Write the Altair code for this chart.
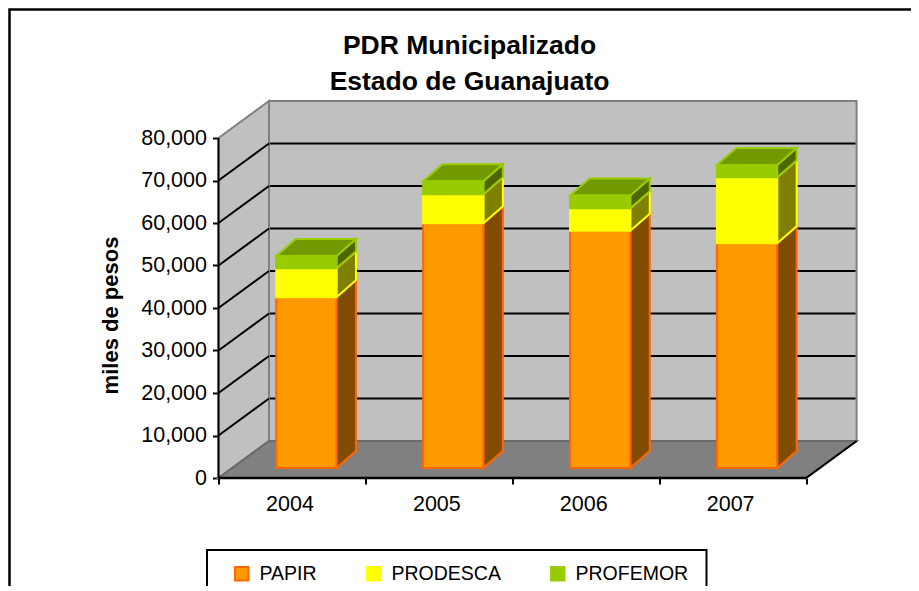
import altair as alt
import pandas as pd

title_lines = ["PDR Municipalizado", "Estado de Guanajuato"]
years = ["2004", "2005", "2006", "2007"]
series = ["PAPIR", "PRODESCA", "PROFEMOR"]
papir = [40200, 57600, 55800, 52900]
prodesca = [6800, 6800, 5300, 15500]
profemor = [2900, 3100, 3000, 2900]
y_ticks = [0, 10000, 20000, 30000, 40000, 50000, 60000, 70000, 80000]
x_ticks = [0, 1, 2, 3, 4]
fills = ["#FF9900", "#FFFF00", "#99CC00"]
edges = ["#FF6600", "#FFFF00", "#99CC00"]
side_fills = ["#804D00", "#808000", "#4D6600"]
top_fills = ["#BF7300", "#BFBF00", "#739900"]

FONT = "Liberation Sans"
# geometry of the fake 3-D box, in data units
PX_X = 146.9          # px per category
PX_Y = 4.25 / 1000    # px per peso-thousand
W, H = 638, 377
WALL_DX, WALL_DY = 50.5 / PX_X, 37 / PX_Y
XMAX, YMAX = W / PX_X, H / PX_Y
BAR_L, BAR_W = 0.393, 0.41
BAR_DX, BAR_DY = 19.5 / PX_X, 17 / PX_Y
LIFT = 10 / PX_Y
TOP = 80000
OX, OY = 218.5, 101
LEFT, UP = OX - 8, OY - 8
CANVAS_W, CANVAS_H = 903, 578

xs = alt.Scale(domain=[0, XMAX], nice=False, zero=False)
ys = alt.Scale(domain=[0, YMAX], nice=False, zero=False)
x_axis_def = alt.Axis(
    values=x_ticks, labels=False, domain=False, grid=False, tickColor="black", tickWidth=2, tickSize=6, title=None)
y_axis_def = alt.Axis(
    values=y_ticks, labelExpr="format(datum.value, ',')", domain=False, grid=False, tickColor="black", tickWidth=2,
    tickSize=6, labelFont=FONT, labelFontSize=21.5, labelColor="black", labelPadding=6,
    title="miles de pesos", titleFont=FONT, titleFontSize=22, titleFontWeight="bold", titleColor="black",
    titleX=122 - OX, titleY=315 - OY, titleAngle=270)
X = lambda f: alt.X(f, type="quantitative", scale=xs, axis=x_axis_def)
Y = lambda f: alt.Y(f, type="quantitative", scale=ys, axis=y_axis_def)
X2 = lambda f: alt.X2(f)
Y2 = lambda f: alt.Y2(f)

# ---- tables built from the arrays
front, sides, tops = [], [], []
for i, yr in enumerate(years):
    base = 0
    x0 = i + BAR_L
    x1 = x0 + BAR_W
    for s, vals in enumerate([papir, prodesca, profemor]):
        lo, hi = base + LIFT, base + vals[i] + LIFT
        front.append(dict(yr=yr, serie=series[s], x=x0, x2=x1, y=lo, y2=hi))
        sides.append(dict(k=f"{yr}{s}", s=s, x=x1, y=lo, y2=hi))
        sides.append(dict(k=f"{yr}{s}", s=s, x=x1 + BAR_DX, y=lo + BAR_DY, y2=hi + BAR_DY))
        base += vals[i]
    tops.append(dict(k=yr, x=x0, x2=x1, y=base + LIFT))
    tops.append(dict(k=yr, x=x0 + BAR_DX, x2=x1 + BAR_DX, y=base + LIFT + BAR_DY))
front = pd.DataFrame(front)
sides = pd.DataFrame(sides)
tops = pd.DataFrame(tops)

one = pd.DataFrame({"a": [0]})
# frame + legend box (chart furniture)
frame = alt.Chart(one).mark_rect(fillOpacity=0, stroke="black", strokeWidth=2.5).encode(
    x=alt.value(9.5 - OX), x2=alt.value(960), y=alt.value(9.5 - OY), y2=alt.value(700))
legend_box = alt.Chart(one).mark_rect(fillOpacity=0, stroke="black", strokeWidth=2).encode(
    x=alt.value(207 - OX), x2=alt.value(706.5 - OX), y=alt.value(550 - OY), y2=alt.value(560))

# walls and floor
back = alt.Chart(pd.DataFrame({"x": [WALL_DX], "x2": [4 + WALL_DX], "y": [WALL_DY], "y2": [TOP + WALL_DY]})).mark_rect(
    fill="#C0C0C0", stroke="#808080", strokeWidth=2).encode(x=X("x"), x2=X2("x2"), y=Y("y"), y2=Y2("y2"))
left_wall = alt.Chart(pd.DataFrame({"x": [0, WALL_DX], "y": [0, WALL_DY], "y2": [TOP, TOP + WALL_DY]})).mark_area(
    fill="#C0C0C0", stroke="#808080", strokeWidth=2).encode(x=X("x"), y=Y("y"), y2=Y2("y2"))
floor = alt.Chart(pd.DataFrame({"y": [0, WALL_DY], "x": [0, WALL_DX], "x2": [4, 4 + WALL_DX]})).mark_area(
    orient="horizontal", fill="#808080", stroke="#6A6A6A", strokeWidth=2).encode(
    y=Y("y"), x=X("x"), x2=X2("x2"))

# gridlines
grid_vals = y_ticks[1:-1]
back_grid = alt.Chart(pd.DataFrame({"y": [v + WALL_DY for v in grid_vals]})).mark_rule(
    color="black", strokeWidth=2).encode(y=Y("y"), x=alt.value(WALL_DX * PX_X + 1), x2=alt.value(W - 1))
diag = pd.DataFrame(
    [dict(k=v, x=0, y=v) for v in grid_vals] + [dict(k=v, x=WALL_DX, y=v + WALL_DY) for v in grid_vals])
side_grid = alt.Chart(diag).mark_line(color="black", strokeWidth=2).encode(
    x=X("x"), y=Y("y"), detail="k:N")
right_edge = alt.Chart(pd.DataFrame({"x": [4, 4 + WALL_DX], "y": [0, WALL_DY]})).mark_line(
    color="black", strokeWidth=2).encode(x=X("x"), y=Y("y"))

# bars
side_layer = alt.Chart(sides).mark_area(strokeWidth=2).encode(
    x=X("x"), y=Y("y"), y2=Y2("y2"), detail="k:N",
    fill=alt.Fill("s:N", scale=alt.Scale(domain=[0, 1, 2], range=side_fills), legend=None),
    stroke=alt.Stroke("s:N", scale=alt.Scale(domain=[0, 1, 2], range=edges), legend=None),
)
top_layer = alt.Chart(tops).mark_area(orient="horizontal", fill=top_fills[2], stroke=edges[2], strokeWidth=2).encode(
    y=Y("y"), x=X("x"), x2=X2("x2"), detail="k:N")
leg = dict(
    title=None, orient="none", legendX=232 - OX, legendY=564 - OY, direction="horizontal",
    symbolType="square", symbolSize=180, symbolStrokeWidth=2, labelFont=FONT, labelFontSize=19.5,
    labelColor="black", columnPadding=46, gridAlign="none", padding=0, labelOffset=8, symbolOpacity=1)
front_layer = alt.Chart(front).mark_rect(strokeWidth=2).encode(
    x=X("x"), x2=X2("x2"), y=Y("y"), y2=Y2("y2"),
    fill=alt.Fill("serie:N", scale=alt.Scale(domain=series, range=fills), legend=alt.Legend(**leg)),
    stroke=alt.Stroke("serie:N", scale=alt.Scale(domain=series, range=edges), legend=alt.Legend(**leg)),
)

# axis lines and text
axis_v = alt.Chart(pd.DataFrame({"x": [0], "y": [0], "y2": [TOP]})).mark_rule(color="black", strokeWidth=2).encode(
    x=X("x"), y=Y("y"), y2=Y2("y2"))
axis_h = alt.Chart(pd.DataFrame({"y": [0], "x": [0], "x2": [4]})).mark_rule(color="black", strokeWidth=2.5).encode(
    y=Y("y"), x=X("x"), x2=X2("x2"))
x_labels = alt.Chart(pd.DataFrame({"yr": years, "x": [i + 0.5 for i in x_ticks[:-1]], "y": [0] * 4})).mark_text(
    font=FONT, fontSize=21.5, color="black", baseline="middle", dy=27, dx=-2).encode(x=X("x"), y=Y("y"), text="yr:N")
title_1 = alt.Chart(pd.DataFrame({"t": title_lines[:1]})).mark_text(
    font=FONT, fontSize=26.5, fontWeight="bold", color="black", baseline="alphabetic", align="center").encode(
    text="t:N", x=alt.value(469.5 - OX), y=alt.value(54 - OY))
title_2 = alt.Chart(pd.DataFrame({"t": title_lines[1:]})).mark_text(
    font=FONT, fontSize=26.5, fontWeight="bold", color="black", baseline="alphabetic", align="center").encode(
    text="t:N", x=alt.value(469.5 - OX), y=alt.value(90 - OY))

chart = alt.layer(
    frame, legend_box, back, left_wall, floor, back_grid, side_grid, right_edge,
    axis_v, axis_h, side_layer, top_layer, front_layer, x_labels, title_1, title_2,
).resolve_scale(fill="independent", stroke="independent").properties(
    width=W, height=H,
    padding={"left": LEFT, "top": UP, "right": CANVAS_W - LEFT - W, "bottom": CANVAS_H - UP - H},
    autosize=alt.AutoSizeParams(type="none"),
).configure_view(stroke=None)

chart.save("out.html", embed_options={"renderer": "svg", "actions": False})
